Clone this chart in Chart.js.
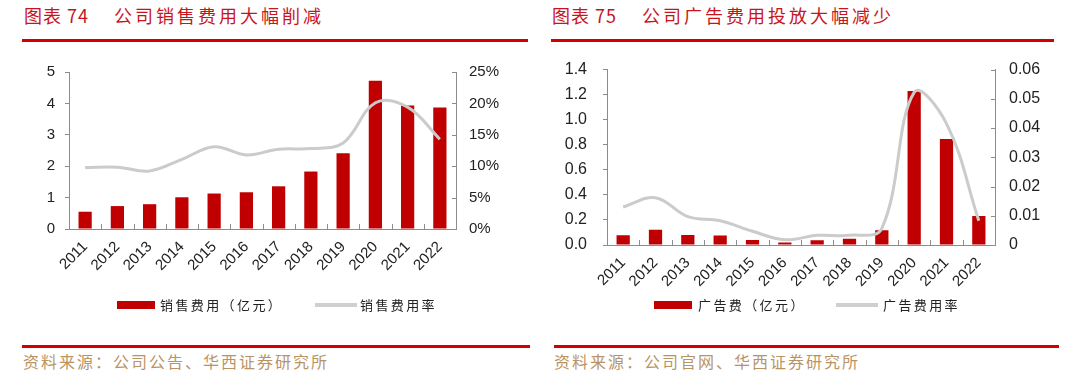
<!DOCTYPE html>
<html>
<head>
<meta charset="utf-8">
<script src="https://cdn.jsdelivr.net/npm/chart.js@4.4.1/dist/chart.umd.min.js"></script>
<style>
  body { margin: 0; width: 1080px; height: 387px; background: #fff; overflow: hidden; position: relative;
         font-family: "Noto Sans CJK SC", "Noto Sans", sans-serif; }
  .abs { position: absolute; white-space: nowrap; }
  .title { color: #c8141c; font-size: 18px; line-height: 20px; top: 5px; letter-spacing: 3px; }
  .num { letter-spacing: 1px; }
  .rule { background: #d40000; }
  .src { color: #b89465; font-size: 16px; line-height: 20px; top: 351px; letter-spacing: 2px; }
  .lg { font-size: 13px; line-height: 16px; top: 297px; color: #222; letter-spacing: 2.4px; }
  canvas { position: absolute; }
</style>
</head>
<body>
<!-- left panel -->
<div class="abs title num" style="left:24px">图表 74</div>
<div class="abs title" style="left:114px">公司销售费用大幅削减</div>
<div class="abs rule" style="left:22px; top:39px; width:506px; height:3px"></div>
<canvas id="salesChart" width="540" height="250" style="left:0; top:50px"></canvas>
<div class="abs" style="left:117px; top:301px; width:38px; height:8px; background:#c00000"></div>
<div class="abs lg" style="left:160px">销售费用（亿元）</div>
<div class="abs" style="left:315px; top:303px; width:42px; height:4px; background:#cfcfcf"></div>
<div class="abs lg" style="left:360px">销售费用率</div>
<div class="abs rule" style="left:22px; top:345px; width:508px; height:3px"></div>
<div class="abs src" style="left:23px">资料来源：公司公告、华西证券研究所</div>

<!-- right panel -->
<div class="abs title num" style="left:552px">图表 75</div>
<div class="abs title" style="left:642px">公司广告费用投放大幅减少</div>
<div class="abs rule" style="left:551px; top:39px; width:503px; height:3px"></div>
<canvas id="adChart" width="540" height="256" style="left:540px; top:44px"></canvas>
<div class="abs" style="left:654px; top:301px; width:38px; height:8px; background:#c00000"></div>
<div class="abs lg" style="left:698px">广告费（亿元）</div>
<div class="abs" style="left:836px; top:303px; width:42px; height:4px; background:#cfcfcf"></div>
<div class="abs lg" style="left:883px">广告费用率</div>
<div class="abs rule" style="left:554px; top:345px; width:505px; height:3px"></div>
<div class="abs src" style="left:554px">资料来源：公司官网、华西证券研究所</div>

<script>
const years = ["2011", "2012", "2013", "2014", "2015", "2016", "2017", "2018", "2019", "2020", "2021", "2022"];

// 销售费用（亿元）and 销售费用率（%）
const salesExpense = [0.55, 0.73, 0.79, 1.01, 1.13, 1.17, 1.36, 1.83, 2.41, 4.72, 3.93, 3.87];
const salesRate = [9.8, 9.85, 9.25, 11.1, 13.1, 11.8, 12.7, 12.8, 13.7, 20.1, 19.4, 14.3];

// 广告费（亿元）and 广告费用率
const adExpense = [0.078, 0.122, 0.080, 0.075, 0.039, 0.020, 0.038, 0.049, 0.117, 1.23, 0.847, 0.231];
const adRate = [0.0130, 0.0162, 0.0097, 0.0083, 0.0047, 0.0018, 0.0033, 0.0033, 0.0057, 0.0522, 0.0415, 0.0083];

const red = "#c00000";
const gray = "#cbcbcb";
const axisColor = "#8c8c8c";
const labelColor = "#222";

// tick marks pointing into the plot: x axis between categories, right axis on each tick
const innerTicks = {
  id: "innerTicks",
  afterDraw(chart) {
    const { ctx, chartArea, scales } = chart;
    const x = scales.x, y2 = scales.y2;
    ctx.save();
    ctx.strokeStyle = axisColor;
    ctx.lineWidth = 1;
    ctx.beginPath();
    for (let i = 1; i < x.ticks.length; i++) {
      const px = Math.round((x.getPixelForTick(i - 1) + x.getPixelForTick(i)) / 2) + 0.5;
      ctx.moveTo(px, chartArea.bottom);
      ctx.lineTo(px, chartArea.bottom - 5);
    }
    y2.ticks.forEach((t, i) => {
      const py = Math.round(y2.getPixelForTick(i)) + 0.5;
      ctx.moveTo(chartArea.right, py);
      ctx.lineTo(chartArea.right - 4, py);
    });
    ctx.stroke();
    ctx.restore();
  }
};

function makeChart(id, bars, rate, o) {
  return new Chart(document.getElementById(id), {
    data: {
      labels: years,
      datasets: [
        {
          type: "bar", data: bars, yAxisID: "y", order: 1,
          backgroundColor: red, categoryPercentage: 1, barPercentage: 0.41
        },
        {
          type: "line", data: rate, yAxisID: "y2", order: 0,
          borderColor: gray, borderWidth: 3, pointRadius: 0, tension: 0.38, fill: false
        }
      ]
    },
    options: {
      responsive: false,
      animation: false,
      layout: { padding: { top: o.top, left: 0, right: 0, bottom: 0 } },
      plugins: { legend: { display: false }, tooltip: { enabled: false } },
      scales: {
        x: {
          grid: { display: true, drawOnChartArea: false, drawTicks: false },
          border: { color: axisColor, width: 1 },
          ticks: {
            color: labelColor, font: { family: "Liberation Sans", size: o.xFont },
            minRotation: 45, maxRotation: 45, autoSkip: false, padding: 9
          },
          afterFit: s => { s.height = o.xHeight; }
        },
        y: {
          position: "left", min: 0, max: o.yMax,
          grid: { display: true, drawOnChartArea: false, drawTicks: true, tickLength: 4, color: axisColor },
          border: { color: axisColor, width: 1 },
          ticks: {
            stepSize: o.yStep, color: labelColor, padding: o.yPad,
            font: { family: "Liberation Sans", size: o.yFont },
            callback: o.yFmt
          },
          afterFit: s => { s.width = o.yWidth; }
        },
        y2: {
          position: "right", min: 0, max: o.y2Max,
          grid: { display: true, drawOnChartArea: false, drawTicks: false },
          border: { color: axisColor, width: 1 },
          ticks: {
            stepSize: o.y2Step, color: labelColor, padding: o.y2Pad,
            font: { family: "Liberation Sans", size: o.yFont },
            callback: o.y2Fmt
          },
          afterFit: s => { s.width = o.y2Width; }
        }
      }
    },
    plugins: [innerTicks]
  });
}

makeChart("salesChart", salesExpense, salesRate, {
  top: 15, xHeight: 71, xFont: 15, yFont: 15,
  yMax: 5, yStep: 1, yWidth: 69, yPad: 10, yFmt: v => String(v),
  y2Max: 25, y2Step: 5, y2Width: 84, y2Pad: 13, y2Fmt: v => v + "%"
});

makeChart("adChart", adExpense, adRate, {
  top: 9, xHeight: 55, xFont: 15, yFont: 16,
  yMax: 1.4, yStep: 0.2, yWidth: 67, yPad: 16, yFmt: v => v.toFixed(1),
  y2Max: 0.06, y2Step: 0.01, y2Width: 85, y2Pad: 14, y2Fmt: v => v === 0 ? "0" : v.toFixed(2)
});
</script>
</body>
</html>
